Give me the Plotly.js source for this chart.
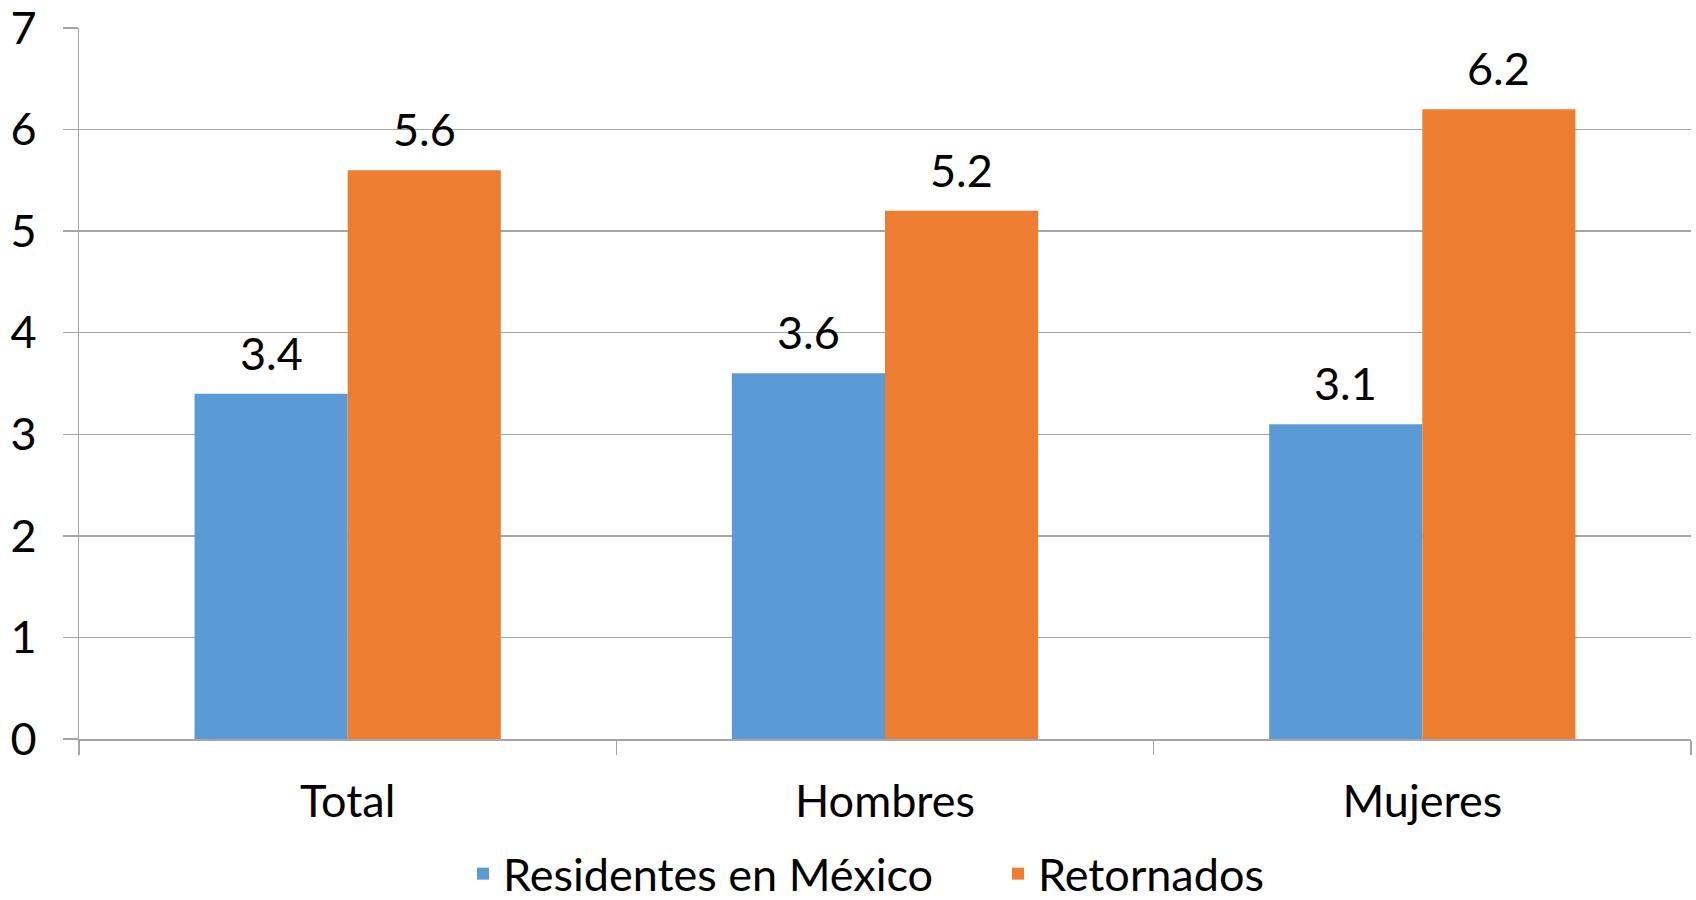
<!DOCTYPE html>
<html>
<head>
<meta charset="utf-8">
<script src="https://cdn.plot.ly/plotly-3.0.1.min.js"></script>
<style>html,body{margin:0;padding:0;background:#fff;}#chart{width:1696px;height:900px;}</style>
</head>
<body>
<div id="chart"></div>
<script>
const categories = ["Total", "Hombres", "Mujeres"];
const residentes = [3.4, 3.6, 3.1];
const retornados = [5.6, 5.2, 6.2];
const seriesNames = ["Residentes en México", "Retornados"];
const yTicks = [0, 1, 2, 3, 4, 5, 6, 7];

const font = "Lato, 'Open Sans', sans-serif";
const FS = 45;
const colors = ["#5B9BD5", "#ED7D31"];
const series = [residentes, retornados];
const traces = series.map((vals, i) => ({
  type: "bar", name: seriesNames[i], x: categories, y: vals,
  marker: {color: colors[i]}, hoverinfo: "skip"
}));
const BARGAP = 0.43;
const plotW = 1696 - 79 - 5;
const barW = plotW / categories.length * (1 - BARGAP) / 2;
const annotations = [];
series.forEach((vals, i) => {
  vals.forEach((v, j) => {
    annotations.push({
      x: categories[j], y: v, xref: "x", yref: "y",
      text: v.toFixed(1), showarrow: false,
      xshift: (i === 0 ? -1 : 1) * barW / 2, yshift: 12,
      yanchor: "bottom", xanchor: "center",
      font: {family: font, size: FS, color: "#000"}
    });
  });
});
const layout = {
  width: 1696, height: 900,
  margin: {l: 79, r: 5, t: 28, b: 161},
  paper_bgcolor: "#fff", plot_bgcolor: "#fff",
  font: {family: font, size: FS, color: "#000"},
  barmode: "group", bargap: BARGAP, bargroupgap: 0,
  showlegend: true,
  annotations: annotations,
  legend: {orientation: "h", xref: "container", yref: "container",
           x: 0.273, xanchor: "left", y: 0.029, yanchor: "middle",
           entrywidth: 490,
           font: {family: font, size: FS, color: "#000"}, itemclick: false},
  xaxis: {type: "category", tickson: "boundaries", ticks: "outside", ticklen: 14, automargin: false,
          tickcolor: "#a6a6a6", tickwidth: 1.5, showline: true, linecolor: "#a6a6a6", linewidth: 1.5,
          showgrid: false, tickfont: {family: font, size: FS}, ticklabelstandoff: 22},
  yaxis: {range: [0, 7], tickvals: yTicks, ticks: "outside", ticklen: 15, tickcolor: "#a6a6a6", tickwidth: 1.5,
          showline: true, linecolor: "#a6a6a6", linewidth: 1.5, automargin: false,
          ticklabeloverflow: "allow",
          showgrid: true, gridcolor: "#a6a6a6", gridwidth: 1.5, zeroline: false,
          tickfont: {family: font, size: FS}, ticklabelstandoff: 17}
};
Plotly.newPlot("chart", traces, layout, {displayModeBar: false, staticPlot: true});
</script>
</body>
</html>
